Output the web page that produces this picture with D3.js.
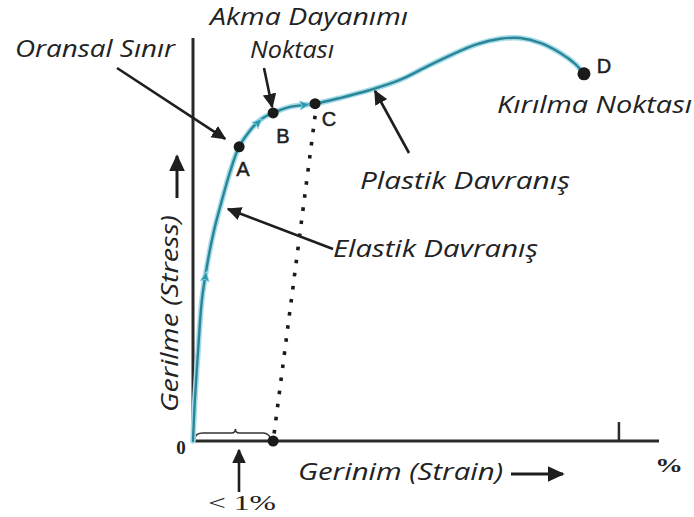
<!DOCTYPE html>
<html>
<head>
<meta charset="utf-8">
<script src="https://cdn.jsdelivr.net/npm/d3@7"></script>
<style>
  html, body { margin: 0; padding: 0; background: #fff; }
  svg { display: block; }
  .lbl { font-family: "Open Sans", "DejaVu Sans", sans-serif; font-style: italic; fill: #222; }
  .pt { font-family: "Liberation Sans", Arial, sans-serif; fill: #1e1e1e; }
  .num { font-family: "Liberation Serif", "DejaVu Serif", serif; fill: #222; }
</style>
</head>
<body>
<svg id="chart" width="694" height="517"></svg>
<script>
// Stress–strain curve (strain and stress in relative units, 0–100)
const strain = [0, 0.4, 1.1, 1.9, 3.2, 4.5, 6.2, 7.9, 9.9, 12.2, 14.8, 17.2, 20.8, 24.0, 26.2, 31.5, 38.0, 44.4, 50.5, 55.8, 60.5, 65.9, 70.2, 74.5, 78.8, 82.0, 83.9];
const stress = [0, 10.1, 22.5, 34.9, 44.8, 52.2, 59.7, 66.6, 73.0, 77.0, 80.0, 81.4, 82.9, 83.4, 83.7, 85.1, 87.1, 89.6, 93.1, 96.0, 98.3, 99.8, 100, 98.8, 96.3, 93.6, 91.1];

// Named points on the curve
const pointNames = ["A", "B", "C", "D"];
const pointIndex = [8, 11, 14, 26];

// Small direction arrows along the curve (fractional index along the curve)
const flowArrowIndex = [3.6, 9.7, 13.0];

// Strain where the offset (dotted) line meets the strain axis
const offsetStrain = 17.2;
// Marked strain near the end of the axis
const endTickStrain = 91.4;

const svg = d3.select("#chart");
const x = d3.scaleLinear().domain([0, 100]).range([193, 659]);
const y = d3.scaleLinear().domain([0, 100]).range([441, 38]);

const pts = strain.map((s, i) => [s, stress[i]]);

// arrowhead marker for annotation arrows
const defs = svg.append("defs");
defs.append("marker")
  .attr("id", "head").attr("viewBox", "0 0 10 10")
  .attr("refX", 9).attr("refY", 5)
  .attr("markerWidth", 5.6).attr("markerHeight", 5.6)
  .attr("markerUnits", "strokeWidth")
  .attr("orient", "auto")
  .append("path").attr("d", "M0,0.3 L10,5 L0,9.7 Z").attr("fill", "#1e1e1e");

// axes: plain lines (no numbered ticks)
const axisColor = "#2b2b2b";
svg.append("line").attr("x1", x(0)).attr("x2", x(0)).attr("y1", y(100)).attr("y2", y(0))
  .attr("stroke", axisColor).attr("stroke-width", 3);
svg.append("line").attr("x1", x(0)).attr("x2", x(100)).attr("y1", y(0)).attr("y2", y(0))
  .attr("stroke", axisColor).attr("stroke-width", 3);
svg.append("line").attr("x1", x(endTickStrain)).attr("x2", x(endTickStrain))
  .attr("y1", y(0)).attr("y2", y(4.7))
  .attr("stroke", axisColor).attr("stroke-width", 2.5);

// dotted offset line from C down to the strain axis
const C = pts[pointIndex[2]];
svg.append("line")
  .attr("x1", x(C[0])).attr("y1", y(C[1]) + 12)
  .attr("x2", x(offsetStrain)).attr("y2", y(0))
  .attr("stroke", "#1a1a1a").attr("stroke-width", 3.6)
  .attr("stroke-dasharray", "3.6 9.6");

// curly brace over the small strain range
const bx0 = x(0) + 2, bx1 = x(offsetStrain) - 4, by = y(0) - 8;
const bm = x(9.1);
svg.append("path")
  .attr("d", `M${bx0},${by + 6} Q${bx0},${by} ${bx0 + 8},${by} L${bm - 4},${by} Q${bm},${by} ${bm},${by - 4} Q${bm},${by} ${bm + 4},${by} L${bx1 - 6},${by} Q${bx1},${by} ${bx1 + 2},${by + 7}`)
  .attr("fill", "none").attr("stroke", "#333").attr("stroke-width", 1.6);

// the curve: soft cyan halo with a teal core
const line = d3.line().x(d => x(d[0])).y(d => y(d[1])).curve(d3.curveCatmullRom.alpha(0.5));
svg.append("path").datum(pts).attr("d", line)
  .attr("fill", "none").attr("stroke", "#a6dcea").attr("stroke-width", 5.5).attr("stroke-linecap", "round");
svg.append("path").datum(pts).attr("d", line)
  .attr("fill", "none").attr("stroke", "#2a8596").attr("stroke-width", 2.4).attr("stroke-linecap", "round");

// flow arrows along the curve
function interp(t) {
  const i = Math.floor(t), f = t - i;
  const a = pts[i], b = pts[Math.min(i + 1, pts.length - 1)];
  return [a[0] + (b[0] - a[0]) * f, a[1] + (b[1] - a[1]) * f];
}
flowArrowIndex.forEach(t => {
  const p = interp(t), q = interp(t + 0.3), r = interp(t - 0.3);
  const ang = Math.atan2(y(q[1]) - y(r[1]), x(q[0]) - x(r[0])) * 180 / Math.PI;
  svg.append("path")
    .attr("d", "M5,0 L-5,-4.5 L-3,0 L-5,4.5 Z")
    .attr("transform", `translate(${x(p[0])},${y(p[1])}) rotate(${ang})`)
    .attr("fill", "#2a97ab").attr("stroke", "#8fd4e6").attr("stroke-width", 0.8);
});

// named points
pointIndex.forEach((idx, k) => {
  svg.append("circle").attr("cx", x(pts[idx][0])).attr("cy", y(pts[idx][1]))
    .attr("r", k === 3 ? 6.5 : 5.5).attr("fill", "#1a1a1a");
});
svg.append("circle").attr("cx", x(offsetStrain)).attr("cy", y(0)).attr("r", 5.5).attr("fill", "#1a1a1a");

const ptLabelPos = [[243, 176], [283, 143], [329, 126], [604, 73]];
pointNames.forEach((n, k) => {
  svg.append("text").attr("class", "pt").attr("x", ptLabelPos[k][0]).attr("y", ptLabelPos[k][1])
    .attr("text-anchor", "middle").attr("font-size", 20)
    .attr("stroke", "#1e1e1e").attr("stroke-width", 0.5).text(n);
});

// annotation arrows
function arrow(x1, y1, x2, y2, w) {
  svg.append("line").attr("x1", x1).attr("y1", y1).attr("x2", x2).attr("y2", y2)
    .attr("stroke", "#1e1e1e").attr("stroke-width", w || 2.6).attr("marker-end", "url(#head)");
}
const A = pts[pointIndex[0]], B = pts[pointIndex[1]];
arrow(117, 68, x(A[0]) - 14, y(A[1]) - 8);          // Oransal Sınır
arrow(264, 68, x(B[0]) - 1, y(B[1]) - 6);           // Akma Dayanımı Noktası
arrow(409, 153, 375, 91);                           // Plastik Davranış
arrow(333, 249, 228, 209);                          // Elastik Davranış
arrow(239, 492, 239, 450);                          // < 1%
arrow(177, 198, 177, 156, 3);                       // stress direction
arrow(511, 474, 563, 474, 3);                       // strain direction

// text labels: [text, x, baseline y, width]
const texts = [
  ["Oransal Sınır", 15, 57, 160],
  ["Akma Dayanımı", 210, 25, 198],
  ["Noktası", 250, 58, 84],
  ["Kırılma Noktası", 497, 113, 195],
  ["Plastik Davranış", 360, 189, 210],
  ["Elastik Davranış", 333, 257, 205],
  ["Gerinim (Strain)", 298, 480, 205]
];
texts.forEach(t => {
  svg.append("text").attr("class", "lbl").attr("x", t[1]).attr("y", t[2])
    .attr("font-size", 24).attr("textLength", t[3]).attr("lengthAdjust", "spacingAndGlyphs").text(t[0]);
});
svg.append("text").attr("class", "lbl")
  .attr("transform", "translate(178,412) rotate(-90)")
  .attr("font-size", 24).attr("textLength", 197).attr("lengthAdjust", "spacingAndGlyphs")
  .text("Gerilme (Stress)");

svg.append("text").attr("class", "num").attr("x", 181).attr("y", 454)
  .attr("text-anchor", "middle").attr("font-size", 19).attr("font-weight", "bold").text("0");
svg.append("text").attr("class", "num").attr("x", 655).attr("y", 472)
  .attr("font-size", 19).attr("font-weight", "bold")
  .attr("textLength", 28).attr("lengthAdjust", "spacingAndGlyphs").text("%");
svg.append("text").attr("class", "num").attr("x", 208).attr("y", 510)
  .attr("font-size", 22).attr("textLength", 68).attr("lengthAdjust", "spacingAndGlyphs")
  .text("< 1%");
</script>
</body>
</html>
